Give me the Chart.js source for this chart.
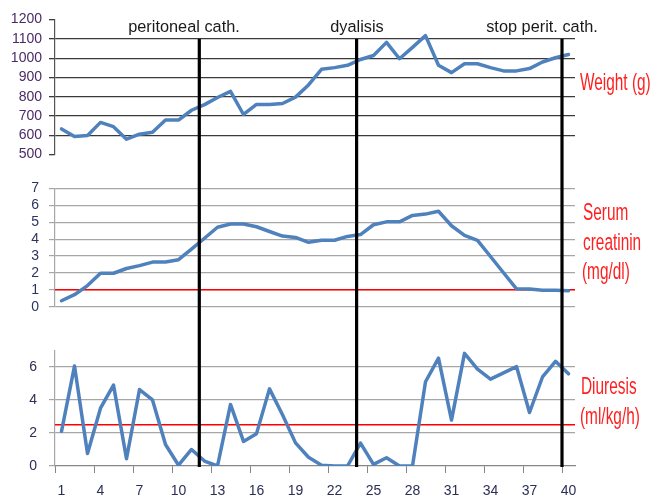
<!DOCTYPE html>
<html>
<head>
<meta charset="utf-8">
<script src="https://cdn.jsdelivr.net/npm/chart.js@4.4.1/dist/chart.umd.min.js"></script>
<style>
  body { margin: 0; background: #fff; }
  #wrap { position: relative; width: 655px; height: 502px; overflow: hidden; font-family: "Liberation Sans", Arial, sans-serif; }
  #wrap canvas { position: absolute; left: 0; display: block; }
  .note { position: absolute; white-space: nowrap; font-size: 17px; line-height: 20px; color: #1a1a1a; transform: translateX(-50%) scale(0.96, 0.98); }
  .side { position: absolute; white-space: nowrap; font-size: 19px; line-height: 19px; color: #ff1f1f; transform-origin: left center; transform: scale(0.81, 1.25); }
</style>
</head>
<body>
<div id="wrap">
  <canvas id="weightChart" width="655" height="170" style="top:0"></canvas>
  <canvas id="creatChart" width="655" height="160" style="top:170px"></canvas>
  <canvas id="diuresisChart" width="655" height="172" style="top:330px"></canvas>

  <div class="note" style="left:184px; top:17px">peritoneal cath.</div>
  <div class="note" style="left:357px; top:17px">dyalisis</div>
  <div class="note" style="left:542px; top:17px">stop perit. cath.</div>

  <div class="side" style="left:580px; top:72px">Weight (g)</div>
  <div class="side" style="left:583px; top:202px">Serum</div>
  <div class="side" style="left:583px; top:232px">creatinin</div>
  <div class="side" style="left:582px; top:261px">(mg/dl)</div>
  <div class="side" style="left:581px; top:376px">Diuresis</div>
  <div class="side" style="left:580px; top:406px">(ml/kg/h)</div>
</div>

<script>
// Days on the x axis and which of them get a label
const days = ['1','2','3','4','5','6','7','8','9','10','11','12','13','14','15','16','17','18','19','20',
              '21','22','23','24','25','26','27','28','29','30','31','32','33','34','35','36','37','38','39','40'];
const shownDays = [1, 4, 7, 10, 13, 16, 19, 22, 25, 28, 31, 34, 37, 40];

// Series
const weight = [633, 594, 599, 667, 645, 580, 606, 616, 679, 679, 730, 759, 796, 828, 708, 760, 760, 765, 798, 861,
                942, 951, 963, 993, 1014, 1082, 997, 1056, 1117, 963, 925, 971, 971, 951, 934, 934, 946, 980, 1002, 1019];
const creatinine = [0.35, 0.71, 1.25, 1.98, 1.98, 2.26, 2.43, 2.64, 2.64, 2.78, 3.41, 4.05, 4.7, 4.89, 4.89, 4.73, 4.45, 4.18, 4.1, 3.81,
                    3.93, 3.93, 4.16, 4.27, 4.85, 5.02, 5.02, 5.4, 5.48, 5.65, 4.79, 4.22, 3.93, 2.97, 2.01, 1.06, 1.05, 0.98, 0.97, 0.95];
const diuresis = [2.1, 6.05, 0.76, 3.5, 4.9, 0.44, 4.63, 4.0, 1.3, 0.05, 1.0, 0.3, 0, 3.73, 1.49, 1.96, 4.67, 3.1, 1.4, 0.53,
                  0.05, 0, 0, 1.39, 0.1, 0.5, 0, 0, 5.1, 6.53, 2.78, 6.82, 5.87, 5.26, 5.64, 6.02, 3.24, 5.39, 6.34, 5.58];

// Tick values per panel
const weightTicks = [500, 600, 700, 800, 900, 1000, 1100, 1200];
const creatinineTicks = [0, 1, 2, 3, 4, 5, 6, 7];
const diuresisTicks = [0, 2, 4, 6];

// Reference limits (red) and events (black verticals), in days
const creatinineLimit = 1;
const diuresisLimit = 2.5;
const eventDays = [11.6, 23.7, 39.5];

const BLUE = '#4f81bd';
const tickFont = { family: '"Liberation Sans", Arial, sans-serif', size: 14 };

// draws the red limit line under the data, black event lines over it
const overlay = {
  id: 'overlay',
  beforeDatasetsDraw(chart, args, opts) {
    if (opts.limit == null) return;
    const { ctx, chartArea: a } = chart;
    const py = chart.scales.y.getPixelForValue(opts.limit);
    ctx.save();
    ctx.strokeStyle = '#ff0000';
    ctx.lineWidth = 1.5;
    ctx.beginPath();
    ctx.moveTo(a.left, py);
    ctx.lineTo(a.right, py);
    ctx.stroke();
    ctx.restore();
  },
  afterDatasetsDraw(chart, args, opts) {
    const { ctx } = chart;
    const top = opts.fromValue != null ? chart.scales.y.getPixelForValue(opts.fromValue) : 0;
    const bottom = opts.toChartBottom ? chart.chartArea.bottom + 1 : chart.height;
    ctx.save();
    ctx.strokeStyle = '#000';
    ctx.lineWidth = 3.2;
    eventDays.forEach(d => {
      const px = chart.scales.x.getPixelForValue(d - 1);
      ctx.beginPath();
      ctx.moveTo(px, top);
      ctx.lineTo(px, bottom);
      ctx.stroke();
    });
    ctx.restore();
  }
};

function makePanel(id, values, cfg) {
  const xAxis = cfg.showX ? {
    type: 'category', offset: true,
    afterFit: s => { s.height = 36; },
    border: { color: '#868686', width: 1.2 },
    grid: {
      offset: true, drawOnChartArea: false, tickLength: 7,
      color: c => (c.index % 3 === 0 ? '#868686' : 'rgba(0,0,0,0)')
    },
    ticks: {
      autoSkip: false, maxRotation: 0, padding: 10, color: '#2c2f55', font: tickFont,
      callback: (v, i) => (shownDays.includes(i + 1) ? days[i] : '')
    }
  } : { type: 'category', offset: true, display: false };

  return new Chart(document.getElementById(id), {
    type: 'line',
    data: {
      labels: days,
      datasets: [{
        data: values, borderColor: BLUE, borderWidth: 3.5,
        pointRadius: 0, tension: 0, borderJoinStyle: 'round', borderCapStyle: 'round'
      }]
    },
    options: {
      responsive: false, animation: false, events: [],
      layout: { padding: { left: 0, right: 80, top: cfg.padTop, bottom: cfg.padBottom } },
      plugins: { legend: { display: false }, tooltip: { enabled: false }, overlay: cfg.overlay },
      scales: {
        x: xAxis,
        y: {
          min: cfg.ticks[0], max: cfg.max,
          afterBuildTicks: s => { s.ticks = cfg.ticks.map(v => ({ value: v })); },
          afterFit: s => { s.width = 55; },
          border: { color: cfg.axisColor, width: 1.2 },
          grid: {
            tickLength: 6, lineWidth: cfg.gridWidth,
            color: c => (cfg.hideGrid.includes(c.tick.value) ? 'rgba(0,0,0,0)' : cfg.gridColor),
            tickColor: cfg.gridColor
          },
          ticks: {
            autoSkip: false, color: cfg.labelColor, font: tickFont, padding: cfg.labelPad,
            callback: v => String(v)
          }
        }
      }
    },
    plugins: [overlay]
  });
}

makePanel('weightChart', weight, {
  ticks: weightTicks, max: 1200, padTop: 19.6, padBottom: 13.3,
  axisColor: '#555', gridColor: '#3a3a3a', gridWidth: 1.3, hideGrid: [500, 1200],
  labelColor: '#4a2a66', labelPad: 7,
  overlay: { fromValue: 1100 }
});

makePanel('creatChart', creatinine, {
  ticks: creatinineTicks, max: 7, padTop: 15, padBottom: 23.3,
  axisColor: '#a6a6a6', gridColor: '#a6a6a6', gridWidth: 1.2, hideGrid: [],
  labelColor: '#2c3460', labelPad: 10,
  overlay: { limit: creatinineLimit }
});

makePanel('diuresisChart', diuresis, {
  ticks: diuresisTicks, max: 7, padTop: 13.5, padBottom: 0, showX: true,
  axisColor: '#a6a6a6', gridColor: '#a6a6a6', gridWidth: 1.2, hideGrid: [0],
  labelColor: '#2c2f55', labelPad: 12,
  overlay: { limit: diuresisLimit, toChartBottom: true }
});
</script>
</body>
</html>
